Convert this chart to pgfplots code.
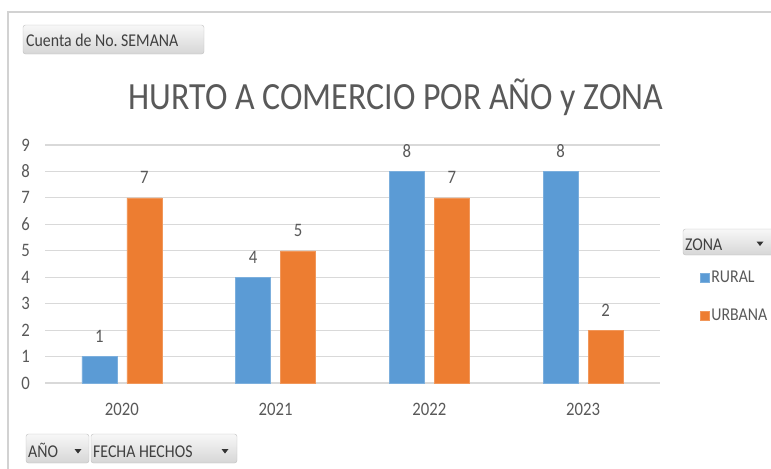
\documentclass[border=0pt]{standalone}
\usepackage{pgfplots}
\pgfplotsset{compat=1.18}
\usepackage{fontspec}
\setmainfont{Carlito}[FakeStretch=0.88]
\frenchspacing
\definecolor{blueb}{HTML}{5B9BD5}
\definecolor{orangeb}{HTML}{ED7D31}
\definecolor{txt}{HTML}{595959}
\definecolor{btxt}{HTML}{404040}
\definecolor{gridc}{HTML}{D9D9D9}
\tikzset{btn/.style={draw=gray!50, rounded corners=2.5bp, top color=gray!6, bottom color=gray!32},
  btntext/.style={anchor=base west, inner sep=0pt, font=\fontsize{18bp}{20bp}\selectfont, text=btxt},
  arr/.style={fill=black!80}}
\begin{document}
\begin{tikzpicture}
\useasboundingbox (0,0) rectangle (771bp,-469bp);
\draw[gray!35, line width=1.2bp] (8bp,-469bp) -- (8bp,-12bp) -- (771bp,-12bp);
% buttons
\draw[btn] (23bp,-25bp) rectangle (204bp,-54bp);
\node[btntext] at (26bp,-46bp) {Cuenta de No. SEMANA};
\draw[btn] (26bp,-434bp) rectangle (89bp,-463bp);
\node[btntext] at (28bp,-457bp) {AÑO};
\fill[arr] (74.5bp,-449bp) -- (81.5bp,-449bp) -- (78bp,-453.5bp) -- cycle;
\draw[btn] (91bp,-434bp) rectangle (237bp,-463bp);
\node[btntext] at (93bp,-457bp) {FECHA HECHOS};
\fill[arr] (221.5bp,-449bp) -- (228.5bp,-449bp) -- (225bp,-453.5bp) -- cycle;
\draw[btn] (683bp,-229bp) rectangle (775bp,-255bp);
\node[btntext] at (685bp,-250bp) {ZONA};
\fill[arr] (756.5bp,-241.5bp) -- (763.5bp,-241.5bp) -- (760bp,-246bp) -- cycle;
% title
\node[anchor=base, inner sep=0pt, font=\fontsize{38.5bp}{42bp}\selectfont, text=txt] at (396bp,-109bp) {HURTO A COMERCIO POR AÑO y ZONA};
\begin{axis}[
  at={(45bp,-383bp)}, anchor=south west,
  scale only axis, width=615bp, height=238bp,
  ymin=0, ymax=9, xmin=-0.5, xmax=3.5,
  ytick={0,...,9}, xtick={0,1,2,3}, xticklabels={2020,2021,2022,2023},
  ybar=10bp, bar width=35bp,
  axis line style={draw=none}, major tick length=0pt,
  ymajorgrids, grid style={gridc, line width=1.2bp},
  tick label style={font=\fontsize{19bp}{21bp}\selectfont, text=txt, inner sep=0pt},
  /pgf/number format/assume math mode=true,
  yticklabel style={anchor=east, xshift=-15bp},
  xticklabel style={anchor=base, yshift=-32bp},
  nodes near coords,
  every node near coord/.append style={font=\fontsize{19bp}{21bp}\selectfont, text=txt, inner sep=0pt, anchor=base, yshift=14bp},
  legend style={at={(1.065,0.4706)}, anchor=north west, draw=none, fill=none, inner sep=0pt, outer sep=0pt,
    nodes={inner sep=0pt, outer sep=0pt},
    font=\fontsize{18bp}{20bp}\selectfont, text=txt, row sep=25bp,
    /tikz/every odd column/.append style={column sep=2bp}},
  legend cell align=left,
  legend image code/.code={\fill[#1] (0bp,-4.5bp) rectangle (9bp,4.5bp);},
]
\addplot[fill=blueb, draw=blueb!80!white] coordinates {(0,1) (1,4) (2,8) (3,8)};
\addplot[fill=orangeb, draw=orangeb!80!white] coordinates {(0,7) (1,5) (2,7) (3,2)};
\legend{RURAL,URBANA}
\end{axis}
\end{tikzpicture}
\end{document}
